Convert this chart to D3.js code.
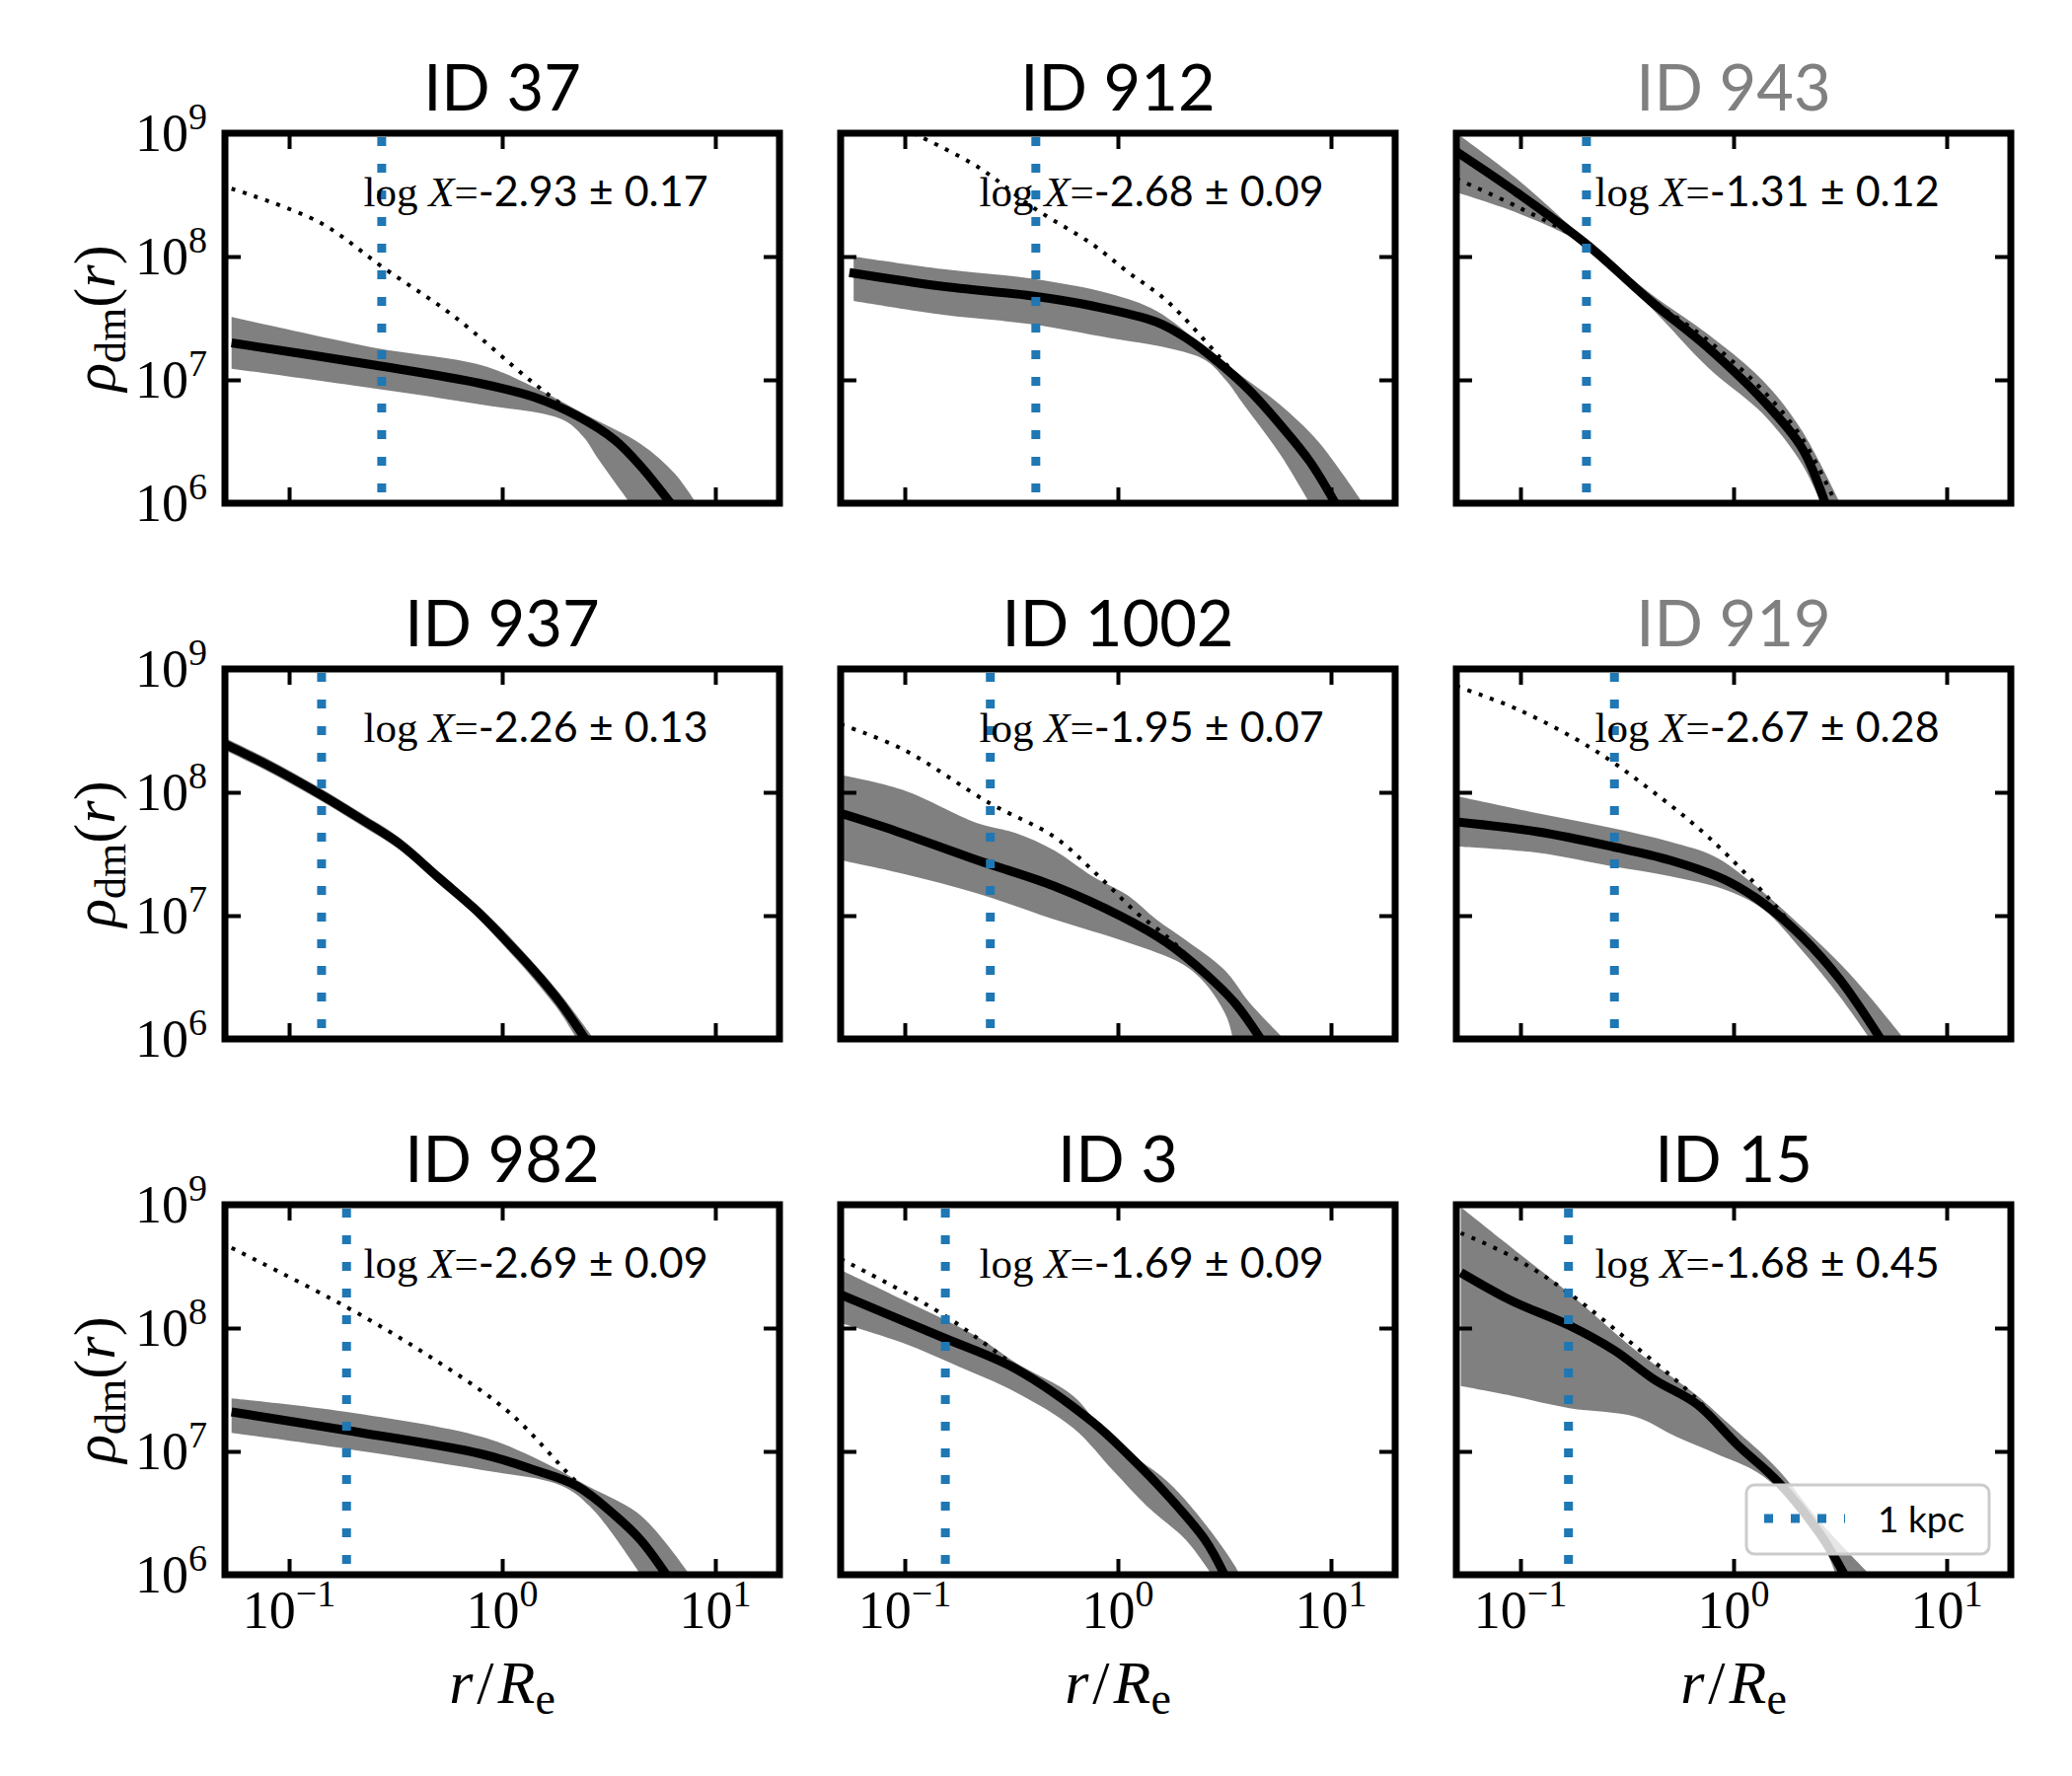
<!DOCTYPE html>
<html>
<head>
<meta charset="utf-8">
<script src="https://cdn.jsdelivr.net/npm/d3@7"></script>
<style>
  body { margin: 0; background: #fff; }
  .serif { font-family: "Liberation Serif", "DejaVu Serif", serif; }
  .sans { font-family: "Lato", "Open Sans", sans-serif; }
</style>
</head>
<body>
<script>

// panel titles and annotation
const ids = ["ID 37", "ID 912", "ID 943", "ID 937", "ID 1002", "ID 919", "ID 982", "ID 3", "ID 15"];
const grayTitle = [false, false, true, false, false, true, false, false, false];
const logXText = ["-2.93 ± 0.17", "-2.68 ± 0.09", "-1.31 ± 0.12",
                  "-2.26 ± 0.13", "-1.95 ± 0.07", "-2.67 ± 0.28",
                  "-2.69 ± 0.09", "-1.69 ± 0.09", "-1.68 ± 0.45"];

// r/Re of 1 kpc in each galaxy
const kpcRadius = [0.272, 0.412, 0.204, 0.142, 0.252, 0.276, 0.186, 0.155, 0.168];

// tick values
const xTicks = [0.1, 1, 10];
const xTickExp = ["−1", "0", "1"];
const yTicks = [1e6, 1e7, 1e8, 1e9];
const yTickExp = ["6", "7", "8", "9"];

// profiles, [log10(r/Re), log10(rho)]
const medians = [
  [[-1.27,7.30],[-0.60,7.12],[-0.10,6.97],[0.15,6.86],[0.35,6.71],[0.53,6.51],[0.65,6.30],[0.79,6.0]],
  [[-1.26,7.87],[-0.83,7.76],[-0.40,7.68],[-0.12,7.60],[0.18,7.47],[0.32,7.34],[0.48,7.13],[0.62,6.91],[0.76,6.64],[0.90,6.34],[1.02,6.0]],
  [[-1.30,8.85],[-1.01,8.51],[-0.69,8.10],[-0.39,7.64],[-0.12,7.26],[0.14,6.83],[0.32,6.45],[0.43,6.0]],
  [[-1.30,8.39],[-1.10,8.22],[-0.87,8.00],[-0.66,7.78],[-0.48,7.58],[-0.30,7.31],[-0.12,7.04],[0.00,6.83],[0.14,6.57],[0.27,6.30],[0.39,6.0]],
  [[-1.30,7.83],[-1.10,7.72],[-0.66,7.45],[-0.30,7.24],[0.02,6.99],[0.23,6.78],[0.41,6.53],[0.55,6.29],[0.67,6.0]],
  [[-1.30,7.76],[-0.92,7.68],[-0.57,7.56],[-0.30,7.45],[-0.04,7.29],[0.14,7.10],[0.32,6.83],[0.50,6.48],[0.69,6.0]],
  [[-1.27,7.32],[-0.73,7.17],[-0.10,6.98],[0.15,6.85],[0.35,6.72],[0.53,6.48],[0.65,6.28],[0.77,6.0]],
  [[-1.30,8.27],[-0.83,7.93],[-0.48,7.67],[-0.12,7.24],[0.05,6.97],[0.23,6.65],[0.41,6.28],[0.50,6.0]],
  [[-1.28,8.45],[-1.04,8.22],[-0.77,8.02],[-0.56,7.82],[-0.37,7.58],[-0.17,7.38],[0.02,7.05],[0.21,6.75],[0.41,6.32],[0.52,6.0]]
];

const upperBands = [
  [[-1.27,7.51],[-0.60,7.26],[-0.10,7.12],[0.15,6.94],[0.40,6.71],[0.65,6.48],[0.81,6.24],[0.91,6.0]],
  [[-1.24,8.00],[-0.83,7.90],[-0.40,7.82],[-0.04,7.70],[0.18,7.56],[0.41,7.26],[0.59,7.02],[0.76,6.80],[0.94,6.50],[1.15,6.0]],
  [[-1.30,9.00],[-1.01,8.62],[-0.69,8.13],[-0.39,7.70],[-0.12,7.37],[0.14,6.99],[0.32,6.59],[0.50,6.0]],
  [[-1.30,8.44],[-1.10,8.27],[-0.87,8.05],[-0.66,7.83],[-0.48,7.63],[-0.30,7.36],[-0.12,7.09],[0.00,6.89],[0.14,6.63],[0.27,6.37],[0.43,6.0]],
  [[-1.30,8.14],[-1.01,8.02],[-0.66,7.75],[-0.48,7.67],[-0.30,7.53],[-0.12,7.32],[0.05,7.16],[0.18,6.97],[0.32,6.80],[0.50,6.56],[0.62,6.29],[0.78,6.0]],
  [[-1.30,7.97],[-0.92,7.83],[-0.57,7.71],[-0.30,7.60],[-0.09,7.48],[0.09,7.26],[0.32,6.91],[0.50,6.61],[0.64,6.34],[0.80,6.0]],
  [[-1.27,7.43],[-0.73,7.32],[-0.10,7.12],[0.15,6.95],[0.40,6.72],[0.65,6.48],[0.88,6.0]],
  [[-1.30,8.47],[-1.01,8.23],[-0.66,7.93],[-0.48,7.72],[-0.21,7.45],[-0.04,7.11],[0.23,6.76],[0.41,6.41],[0.55,6.07],[0.57,6.0]],
  [[-1.28,8.98],[-1.04,8.65],[-0.77,8.28],[-0.46,7.82],[-0.17,7.45],[-0.04,7.25],[0.21,6.85],[0.41,6.42],[0.64,6.0]]
];

const lowerBands = [
  [[-1.27,7.09],[-0.60,6.93],[-0.10,6.80],[0.28,6.68],[0.38,6.54],[0.45,6.36],[0.60,6.0]],
  [[-1.24,7.64],[-0.83,7.53],[-0.40,7.45],[-0.04,7.34],[0.23,7.26],[0.41,7.16],[0.51,6.99],[0.59,6.80],[0.76,6.40],[0.90,6.0]],
  [[-1.30,8.52],[-1.01,8.35],[-0.69,8.08],[-0.39,7.59],[-0.12,7.10],[0.14,6.72],[0.32,6.32],[0.41,6.0]],
  [[-1.30,8.34],[-1.10,8.17],[-0.87,7.95],[-0.66,7.73],[-0.48,7.53],[-0.30,7.26],[-0.12,6.99],[0.00,6.77],[0.14,6.50],[0.27,6.22],[0.35,6.0]],
  [[-1.30,7.45],[-1.01,7.34],[-0.66,7.18],[-0.30,6.97],[0.05,6.78],[0.30,6.61],[0.41,6.45],[0.51,6.18],[0.54,6.0]],
  [[-1.30,7.56],[-0.92,7.51],[-0.57,7.40],[-0.30,7.32],[-0.04,7.21],[0.14,7.05],[0.32,6.72],[0.50,6.34],[0.64,6.0]],
  [[-1.27,7.15],[-0.73,7.02],[-0.10,6.85],[0.28,6.72],[0.43,6.52],[0.65,6.0]],
  [[-1.30,8.04],[-1.01,7.88],[-0.75,7.69],[-0.48,7.48],[-0.21,7.19],[-0.02,6.84],[0.14,6.55],[0.32,6.28],[0.44,6.0]],
  [[-1.28,7.53],[-1.04,7.45],[-0.77,7.35],[-0.46,7.28],[-0.27,7.12],[-0.08,6.98],[0.12,6.82],[0.31,6.52],[0.42,6.25],[0.48,6.0]]
];

// dotted reference profile (null where it is not shown)
const nfwCurves = [
  [[-1.27,8.55],[-0.86,8.28],[-0.55,7.90],[-0.23,7.52],[0.15,6.97],[0.40,6.65],[0.53,6.51],[0.65,6.30],[0.79,6.0]],
  [[-0.96,9.00],[-0.66,8.73],[-0.40,8.40],[-0.12,8.10],[0.05,7.87],[0.23,7.64],[0.48,7.18],[0.62,6.91],[0.76,6.64],[0.90,6.34],[1.02,6.0]],
  [[-1.30,8.63],[-1.01,8.40],[-0.69,8.10],[-0.39,7.66],[-0.12,7.32],[0.14,6.91],[0.32,6.53],[0.48,6.0]],
  null,
  [[-1.30,8.55],[-1.01,8.35],[-0.60,7.91],[-0.30,7.64],[-0.09,7.32],[0.09,7.02],[0.23,6.83],[0.41,6.53],[0.55,6.29],[0.67,6.0]],
  [[-1.30,8.86],[-1.01,8.67],[-0.66,8.35],[-0.39,8.02],[-0.12,7.64],[0.16,7.15],[0.32,6.83],[0.50,6.48],[0.69,6.0]],
  [[-1.27,8.65],[-0.73,8.17],[-0.35,7.78],[0.03,7.32],[0.35,6.75],[0.53,6.48],[0.65,6.28],[0.77,6.0]],
  [[-1.30,8.56],[-0.83,8.12],[-0.48,7.69],[-0.21,7.35],[0.05,6.97],[0.23,6.65],[0.41,6.28],[0.50,6.0]],
  [[-1.28,8.77],[-1.04,8.58],[-0.77,8.28],[-0.46,7.85],[-0.17,7.42],[0.02,7.05],[0.21,6.75],[0.41,6.32],[0.52,6.0]]
];

const width = 2100;
const height = 1800;
const panelW = 562;
const panelH = 375;
const colLeft = [228, 852, 1476];
const rowTop = [135, 678, 1221];
const blue = "#1f77b4";

const svg = d3.select("body")
	.append("svg")
		.attr("width", width)
		.attr("height", height);

const x = d3.scaleLog().domain([0.05, 20]).range([0, panelW]);
const y = d3.scaleLog().domain([1e6, 1e9]).range([panelH, 0]);

const pow = (v) => Math.pow(10, v);
const line = d3.line()
	.x((d) => x(pow(d[0])))
	.y((d) => y(pow(d[1])))
	.curve(d3.curveCatmullRom.alpha(0.5));

ids.forEach((id, i) => {
	const col = i % 3;
	const row = Math.floor(i / 3);
	const g = svg.append("g")
		.attr("transform", `translate(${colLeft[col]},${rowTop[row]})`);

	svg.append("clipPath")
		.attr("id", "clip" + i)
		.append("rect")
			.attr("width", panelW)
			.attr("height", panelH);

	const plot = g.append("g").attr("clip-path", `url(#clip${i})`);

	// spread band: upper edge then lower edge backwards
	const lower = lowerBands[i].slice().reverse();
	plot.append("path")
		.attr("d", line(upperBands[i]) + "L" + line(lower).slice(1) + "Z")
		.attr("fill", "#808080");

	plot.append("path")
		.attr("d", line(medians[i]))
		.attr("fill", "none")
		.attr("stroke", "#000")
		.attr("stroke-width", 9)
		.attr("stroke-linejoin", "round");

	if (nfwCurves[i]) {
		plot.append("path")
			.attr("d", line(nfwCurves[i]))
			.attr("fill", "none")
			.attr("stroke", "#000")
			.attr("stroke-width", 4)
			.attr("stroke-dasharray", "4 8");
	}

	plot.append("line")
		.attr("x1", x(kpcRadius[i]))
		.attr("x2", x(kpcRadius[i]))
		.attr("y1", y(1e9) + 4)
		.attr("y2", y(1e6))
		.attr("stroke", blue)
		.attr("stroke-width", 9)
		.attr("stroke-dasharray", "9 18");

	// annotation
	const note = g.append("text")
		.attr("x", panelW * 0.25)
		.attr("y", 74)
		.attr("font-size", 43);
	note.append("tspan").attr("class", "serif").text("log ");
	note.append("tspan").attr("class", "serif").attr("font-style", "italic").text("X");
	note.append("tspan").attr("class", "serif").text("=");
	note.append("tspan").attr("class", "sans").text(logXText[i]);

	// ticks on all four sides, pointing in
	const tick = (axis, tr) => {
		const a = g.append("g").attr("transform", tr).call(axis);
		a.select(".domain").remove();
		a.selectAll("line").attr("stroke", "#000").attr("stroke-width", 4);
		a.selectAll("text").remove();
	};
	tick(d3.axisBottom(x).tickValues(xTicks).tickSize(-16), `translate(0,${panelH})`);
	tick(d3.axisTop(x).tickValues(xTicks).tickSize(-16), "translate(0,0)");
	tick(d3.axisLeft(y).tickValues(yTicks).tickSize(-16), "translate(0,0)");
	tick(d3.axisRight(y).tickValues(yTicks).tickSize(-16), `translate(${panelW},0)`);

	g.append("rect")
		.attr("width", panelW)
		.attr("height", panelH)
		.attr("fill", "none")
		.attr("stroke", "#000")
		.attr("stroke-width", 7);

	g.append("text")
		.attr("class", "sans")
		.attr("x", panelW / 2)
		.attr("y", -23)
		.attr("text-anchor", "middle")
		.attr("font-size", 65)
		.attr("fill", grayTitle[i] ? "#808080" : "#000")
		.text(id);

	if (col === 0) {
		yTicks.forEach((v, k) => {
			const t = g.append("text")
				.attr("class", "serif")
				.attr("x", -18)
				.attr("y", y(v) + 18)
				.attr("text-anchor", "end")
				.attr("font-size", 54);
			t.append("tspan").text("10");
			t.append("tspan").attr("dy", -22).attr("font-size", 38).text(yTickExp[k]);
		});

		const lab = g.append("text")
			.attr("class", "serif")
			.attr("transform", `translate(-112,${panelH / 2}) rotate(-90)`)
			.attr("text-anchor", "middle")
			.attr("font-size", 60);
		lab.append("tspan").attr("font-style", "italic").text("ρ");
		lab.append("tspan").attr("dy", 11).attr("font-size", 44).text("dm");
		lab.append("tspan").attr("dy", -11).text("(");
		lab.append("tspan").attr("font-style", "italic").text("r");
		lab.append("tspan").text(")");
	}

	if (row === 2) {
		xTicks.forEach((v, k) => {
			const t = g.append("text")
				.attr("class", "serif")
				.attr("x", x(v))
				.attr("y", panelH + 54)
				.attr("text-anchor", "middle")
				.attr("font-size", 54);
			t.append("tspan").text("10");
			t.append("tspan").attr("dy", -22).attr("font-size", 38).text(xTickExp[k]);
		});

		const lab = g.append("text")
			.attr("class", "serif")
			.attr("x", panelW / 2)
			.attr("y", panelH + 130)
			.attr("text-anchor", "middle")
			.attr("font-size", 62);
		lab.append("tspan").attr("font-style", "italic").text("r");
		lab.append("tspan").attr("dx", 4).text("/");
		lab.append("tspan").attr("dx", 4).attr("font-style", "italic").text("R");
		lab.append("tspan").attr("dy", 11).attr("font-size", 46).text("e");
	}

	// legend only in the last panel
	if (i === ids.length - 1) {
		const leg = g.append("g").attr("transform", "translate(294,284)");
		leg.append("rect")
			.attr("width", 246)
			.attr("height", 70)
			.attr("rx", 8)
			.attr("fill", "#fff")
			.attr("fill-opacity", 0.8)
			.attr("stroke", "#cccccc")
			.attr("stroke-width", 3);
		leg.append("line")
			.attr("x1", 18)
			.attr("x2", 100)
			.attr("y1", 34)
			.attr("y2", 34)
			.attr("stroke", blue)
			.attr("stroke-width", 9)
			.attr("stroke-dasharray", "9 18");
		leg.append("text")
			.attr("class", "sans")
			.attr("x", 133)
			.attr("y", 48)
			.attr("font-size", 37)
			.text("1 kpc");
	}
});

</script>
</body>
</html>
